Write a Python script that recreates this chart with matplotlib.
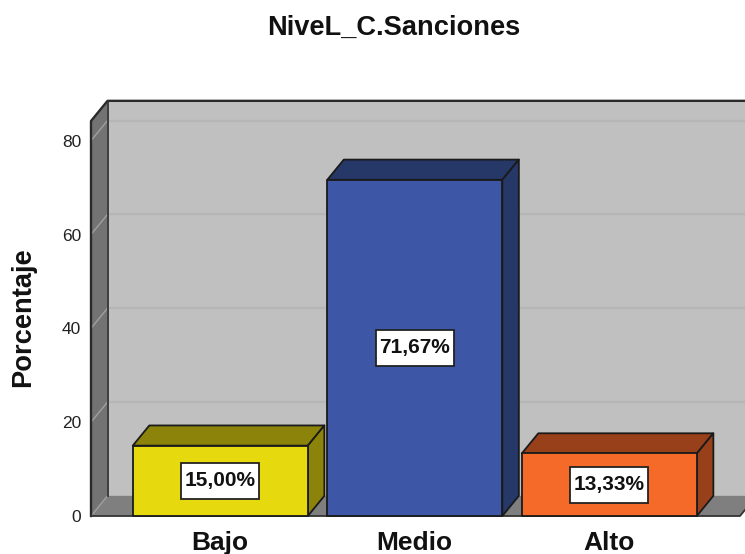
import matplotlib
matplotlib.use('Agg')
import matplotlib.pyplot as plt
from matplotlib.patches import Polygon, Rectangle

plt.rcParams['font.family'] = ['Liberation Sans', 'DejaVu Sans']

#------------ DATA ----------------------------
title = 'NiveL_C.Sanciones'
categories = ['Bajo', 'Medio', 'Alto']
values = [15.00, 71.67, 13.33]
labels = ['15,00%', '71,67%', '13,33%']
y_ticks = [0, 20, 40, 60, 80]

front_colors = ['#e6d90e', '#3d57a6', '#f56a29']
top_colors = ['#8c830a', '#263867', '#98401a']

#------------ SETTINGS ----------------------------
W, H = 745, 554
edge = '#1a1a1a'

# Depth of the fake 3D box, in data units.
dx = 0.085
dy = 4.3
bar_w = 0.9

# Size of the label boxes, in data units.
box_w = 0.40
box_h = 7.6

fig = plt.figure(figsize=(W / 100, H / 100), dpi=100, facecolor='white')

# The axes cover the front plane of the box.
left, bottom, top = 91, 516, 121
ax = fig.add_axes([left / W, (H - bottom) / H, (W - left) / W, (bottom - top) / H])
ax.patch.set_visible(False)

x_scale = 194.5
x_min = (left - 220.3) / x_scale
x_max = (W - 220.3) / x_scale
y_max = 84.2
ax.set_xlim(x_min, x_max)
ax.set_ylim(0, y_max)

for s in ax.spines.values():
    s.set_visible(False)


def poly(points, color, z, lw=1.3, ec=edge):
    ax.add_patch(Polygon(points, closed=True, facecolor=color, edgecolor=ec,
                         linewidth=lw, zorder=z, clip_on=False, joinstyle='round'))


#------------ WALLS ----------------------------
floor_r = (740 - 220.3) / x_scale

# Back wall
poly([(x_min + dx, dy), (x_max + 1, dy), (x_max + 1, y_max + dy), (x_min + dx, y_max + dy)],
     '#c0c0c0', 1, ec='none', lw=0)
# Side wall
poly([(x_min, 0), (x_min + dx, dy), (x_min + dx, y_max + dy), (x_min, y_max)],
     '#737373', 2, ec='none', lw=0)
# Floor
poly([(x_min, 0), (floor_r, 0), (floor_r + dx, dy), (x_min + dx, dy)],
     '#7f7f7f', 2, ec='none', lw=0)

# Grid lines on the walls
for t in y_ticks[1:]:
    ax.plot([x_min + dx, x_max], [t + dy, t + dy], color='#b6b6b6', lw=1.6, zorder=3, clip_on=False)
for t in y_ticks:
    ax.plot([x_min, x_min + dx], [t, t + dy], color='#a0a0a0', lw=1.0, zorder=3, clip_on=False)

# Box outline
ax.plot([x_min, x_min, x_min + dx, x_max], [0, y_max, y_max + dy, y_max + dy],
        color='#2a2a2a', lw=1.7, zorder=4, clip_on=False)
ax.plot([x_min + dx, x_min + dx], [dy, y_max + dy], color='#333333', lw=1.3, zorder=4, clip_on=False)
ax.plot([x_min, floor_r, floor_r + dx], [0, 0, dy], color='#333333', lw=1.3, zorder=4, clip_on=False)

#------------ BARS ----------------------------
for i, v in enumerate(values):
    x0 = i - bar_w / 2
    x1 = i + bar_w / 2
    z = 5 + i
    poly([(x0, v), (x0 + dx, v + dy), (x1 + dx, v + dy), (x1, v)], top_colors[i], z)
    poly([(x1, 0), (x1 + dx, dy), (x1 + dx, v + dy), (x1, v)], top_colors[i], z)
    poly([(x0, 0), (x1, 0), (x1, v), (x0, v)], front_colors[i], z)
    ax.add_patch(Rectangle((i - box_w / 2, v / 2 - box_h / 2), box_w, box_h, facecolor='white',
                           edgecolor='#222222', linewidth=1.3, zorder=9))
    ax.text(i, v / 2, labels[i], ha='center', va='center', fontsize=15, fontweight='bold',
            color='#111111', zorder=10)

#------------ TEXT ----------------------------
ax.set_yticks(y_ticks)
ax.set_xticks(range(len(categories)))
ax.set_xticklabels(categories, fontsize=19, fontweight='bold', color='#111111')
ax.tick_params(axis='x', length=0, pad=10.5)
ax.tick_params(axis='y', length=0, pad=7, labelsize=12.5, labelcolor='#222222')

fig.text(394 / W, 1 - 28 / H, title, ha='center', va='center', fontsize=19.6, fontweight='bold', color='#111111')
fig.text(23 / W, 1 - 317 / H, 'Porcentaje', rotation=90, ha='center', va='center',
         fontsize=19.6, fontweight='bold', color='#111111')

plt.savefig('out.png', dpi=100)
